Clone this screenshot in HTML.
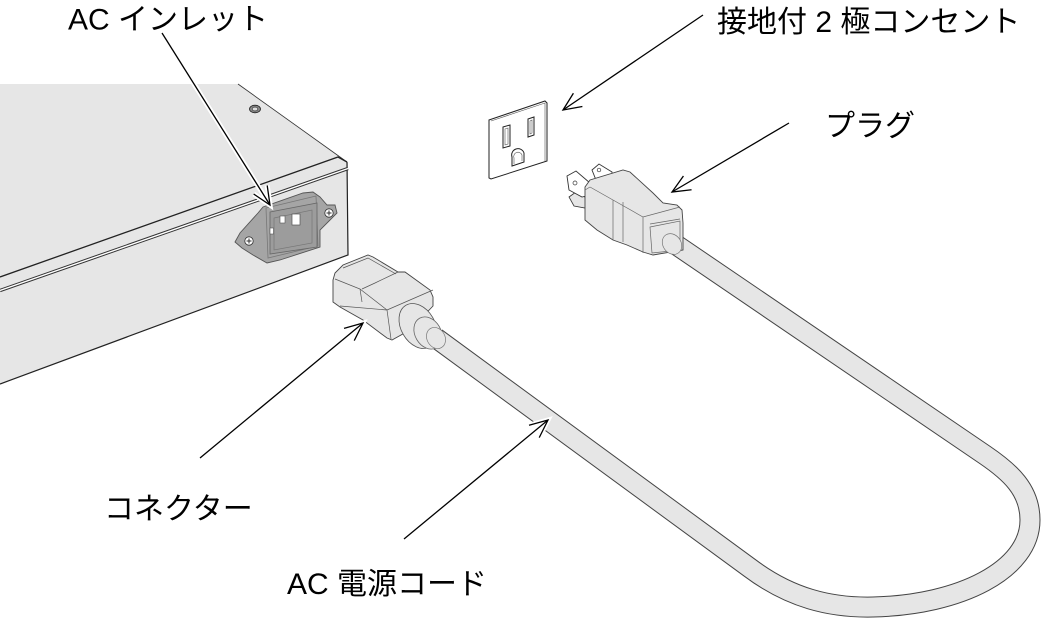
<!DOCTYPE html>
<html><head><meta charset="utf-8">
<style>
html,body{margin:0;padding:0;background:#fff;}
svg{display:block;}
text{font-family:"Liberation Sans","Noto Sans CJK JP",sans-serif;font-size:30px;letter-spacing:0px;fill:#000;}
</style></head>
<body>
<svg width="1051" height="628" viewBox="0 0 1051 628" xmlns="http://www.w3.org/2000/svg">
<defs>
<marker id="ab" markerUnits="userSpaceOnUse" orient="auto" overflow="visible" markerWidth="1" markerHeight="1" refX="0" refY="0">
<path d="M-18,-8 L0,0 L-18,8" fill="none" stroke="#000" stroke-width="1.3"/>
</marker>
<marker id="aw" markerUnits="userSpaceOnUse" orient="auto" overflow="visible" markerWidth="1" markerHeight="1" refX="0" refY="0">
<path d="M-18,-8 L0,0 L-18,8" fill="none" stroke="#fff" stroke-width="5"/>
</marker>
</defs>

<!-- Chassis -->
<polygon points="0,84 238,84 348,163 348,255 0,384" fill="#e6e6e6"/>
<path d="M238,84 L347,162" stroke="#333" stroke-width="0.8" fill="none"/>
<path d="M347,162 L348,255 L0,384" stroke="#222" stroke-width="1.2" fill="none"/>
<path d="M0,277 L338,157 L347,162" stroke="#222" stroke-width="1.3" fill="none"/>
<path d="M0,290.5 L348,168.5" stroke="#333" stroke-width="3.4" fill="none"/>
<path d="M0,290.5 L348,168.5" stroke="#fff" stroke-width="1.4" fill="none"/>
<!-- top screw -->
<ellipse cx="255" cy="109" rx="5.5" ry="3.8" fill="#888" stroke="#222" stroke-width="0.8"/>
<ellipse cx="255" cy="109" rx="2.8" ry="1.9" fill="#ddd" stroke="#222" stroke-width="0.6"/>

<!-- AC inlet -->
<polygon points="235,242 240,233 258,213 263,207 303,193 313,192 320,197 327,205 335,205 337,213 330,220 320,230 320,247 280,260 267,263 253,255 242,248" fill="#a5a5a5" stroke="#555" stroke-width="0.9"/>
<polygon points="266,208 316,196 318,246 268,258" fill="none" stroke="#777" stroke-width="0.8"/>
<polygon points="270,212 317,203 317,247 270,254" fill="#9c9c9c" stroke="#666" stroke-width="0.8"/>
<polygon points="274,218 312,210 312,243 274,250" fill="none" stroke="#777" stroke-width="0.7"/>
<rect x="292" y="214" width="8" height="11" fill="#fff" stroke="#555" stroke-width="0.7"/>
<rect x="280" y="216" width="5" height="7" fill="#fff" stroke="#555" stroke-width="0.6"/>
<rect x="270" y="228" width="3.5" height="6" fill="#fff" stroke="#555" stroke-width="0.6"/>
<circle cx="249" cy="241" r="4.2" fill="#fff" stroke="#333" stroke-width="0.8"/>
<path d="M246.5,241 h5 M249,238.5 v5" stroke="#333" stroke-width="1"/>
<circle cx="329" cy="213" r="4.2" fill="#fff" stroke="#333" stroke-width="0.8"/>
<path d="M326.5,213 h5 M329,210.5 v5" stroke="#333" stroke-width="1"/>

<!-- Cord -->
<path d="M436,338 L750,568 C790,598 830,608 873,607 C960,605 1030,570 1030,520 C1030,490 1010,472 985,455 L672,242" fill="none" stroke="#444" stroke-width="21"/>
<path d="M436,338 L750,568 C790,598 830,608 873,607 C960,605 1030,570 1030,520 C1030,490 1010,472 985,455 L672,242" fill="none" stroke="#e6e6e6" stroke-width="19"/>

<!-- Connector (C13) -->
<polygon points="333,280 335,273 343,265 368,255 373,257 398,272 405,272 430,290 433,297 433,306 410,330 392,340 387,338 363,320 340,307 333,302" fill="#e6e6e6" stroke="#444" stroke-width="0.9"/>
<path d="M335,279 L360,289 L362,302 M362,289 L375,283 L398,272 M343,268 L368,258 L396,274 M387,310 L433,290 M387,310 L391,339 M340,306 L387,310 M360,289 L387,310" fill="none" stroke="#555" stroke-width="0.7"/>
<ellipse cx="418" cy="326" rx="17" ry="24" transform="rotate(-30 418 326)" fill="#e6e6e6" stroke="#555" stroke-width="0.8"/>
<ellipse cx="428" cy="333" rx="13" ry="17" transform="rotate(-30 428 333)" fill="#e6e6e6" stroke="#666" stroke-width="0.8"/>
<ellipse cx="436" cy="338" rx="9" ry="11" transform="rotate(-30 436 338)" fill="#e6e6e6" stroke="#777" stroke-width="0.7"/>

<!-- Outlet -->
<polygon points="489,120 545,101 547,103 547,161 491,179 489,178" fill="#fff" stroke="#222" stroke-width="1"/>
<path d="M491,121 L545,103 L545,161" fill="none" stroke="#555" stroke-width="0.6"/>
<polygon points="503,127 510,125 510,146 503,148" fill="#fff" stroke="#222" stroke-width="1"/>
<polygon points="505,129 508,128 508,144 505,145" fill="none" stroke="#555" stroke-width="0.6"/>
<polygon points="528,119 534,117 534,135 528,137" fill="#fff" stroke="#222" stroke-width="1"/>
<polygon points="530,121 532,120 532,133 530,134" fill="none" stroke="#555" stroke-width="0.6"/>
<path d="M512,166 L512,157 A6,6 0 0 1 524,153 L524,162 Z" fill="#fff" stroke="#222" stroke-width="1"/>
<path d="M514,164 L514,158 A4,4 0 0 1 522,155 L522,161" fill="none" stroke="#555" stroke-width="0.6"/>

<!-- Plug -->
<polygon points="569,197 576,192 590,200 585,208 574,206" fill="#e6e6e6" stroke="#333" stroke-width="0.8"/>
<polygon points="567,176 576,171 590,183 590,195 582,197 569,190" fill="#fff" stroke="#333" stroke-width="0.9"/>
<circle cx="575" cy="183" r="2" fill="none" stroke="#333" stroke-width="0.7"/>
<polygon points="592,170 599,164 612,172 612,180 596,180" fill="#fff" stroke="#333" stroke-width="0.9"/>
<circle cx="599" cy="170" r="1.8" fill="none" stroke="#333" stroke-width="0.7"/>
<polygon points="585,187 590,180 623,170 630,172 653,193 663,203 677,205 682,210 683,223 683,250 653,255 643,252 627,245 613,240 597,230 585,220" fill="#e6e6e6" stroke="#444" stroke-width="0.9"/>
<path d="M590,187 L613,200 L643,217 L680,207 M613,200 L613,240 M623,202 L623,242 M643,217 L643,253 M590,187 L585,190 M650,224 L680,219" fill="none" stroke="#666" stroke-width="0.7"/>
<polygon points="650,227 680,221 680,250 652,253" fill="#e6e6e6" stroke="#666" stroke-width="0.7"/>
<ellipse cx="672" cy="244" rx="9" ry="11" transform="rotate(-35 672 244)" fill="#e6e6e6" stroke="#777" stroke-width="0.7"/>

<!-- Leader lines (halo) -->
<g fill="none" stroke="#fff" stroke-width="5" marker-end="url(#aw)">
<line x1="162" y1="33" x2="270" y2="205"/>
<line x1="703" y1="15" x2="563" y2="110"/>
<line x1="789" y1="123" x2="672" y2="192"/>
<line x1="200" y1="458" x2="363" y2="323"/>
<line x1="404" y1="539" x2="548" y2="420"/>
</g>
<g fill="none" stroke="#000" stroke-width="1.3" marker-end="url(#ab)">
<line x1="162" y1="33" x2="270" y2="205"/>
<line x1="703" y1="15" x2="563" y2="110"/>
<line x1="789" y1="123" x2="672" y2="192"/>
<line x1="200" y1="458" x2="363" y2="323"/>
<line x1="404" y1="539" x2="548" y2="420"/>
</g>

<!-- Labels -->
<text x="68" y="29.5">AC インレット</text>
<text x="717" y="32">接地付 2 極コンセント</text>
<text x="825" y="136">プラグ</text>
<text x="104" y="519">コネクター</text>
<text x="287" y="594">AC 電源コード</text>
</svg>
</body></html>
